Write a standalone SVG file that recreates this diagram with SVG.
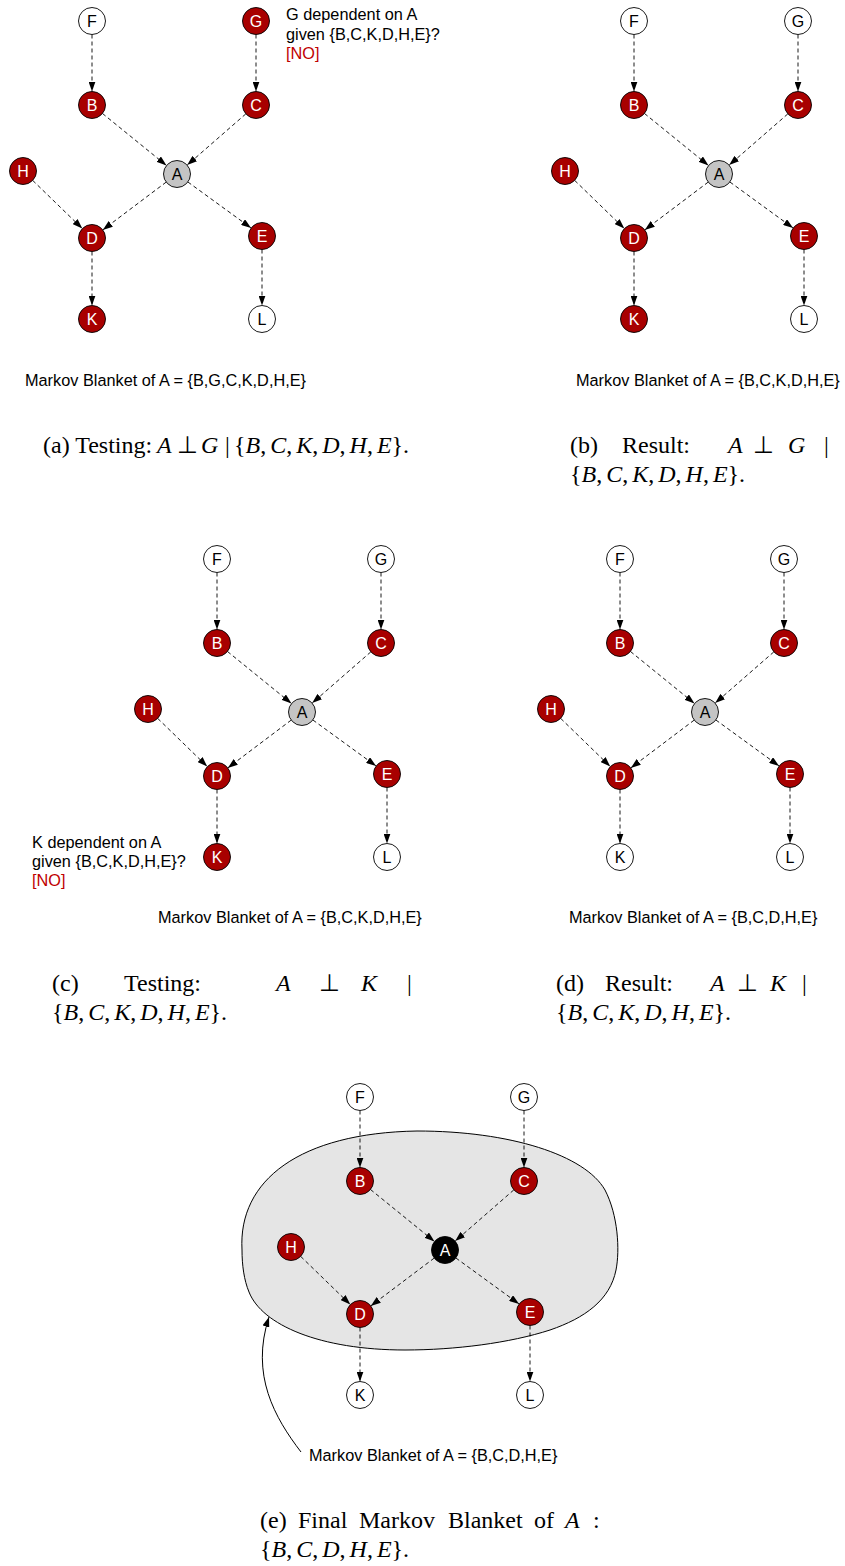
<svg xmlns="http://www.w3.org/2000/svg" width="845" height="1566" viewBox="0 0 845 1566">
<style>
.bg{fill:#ffffff}
circle{stroke:#000;stroke-width:0.9}
.r{fill:#a80000}
.w{fill:#ffffff}
.g{fill:#c4c4c4}
.k{fill:#000000}
.lb{font-family:"Liberation Sans",Arial,sans-serif;font-size:16px;text-anchor:middle}
.lw{fill:#ffffff}
.lk{fill:#000000}
.edge line{stroke:#000;stroke-width:0.9;stroke-dasharray:4,3;marker-end:url(#ah)}
.note{font-family:"Liberation Sans",Arial,sans-serif;font-size:16.3px;fill:#000}
.no{fill:#c00000}
.cap{font-family:"Liberation Serif","Times New Roman",serif;font-size:24px;fill:#000}
.it{font-style:italic}
.blob{fill:#e5e5e5;stroke:#000;stroke-width:1}
.ptr{fill:none;stroke:#000;stroke-width:1;marker-end:url(#ah2)}
</style>
<defs>
<marker id="ah" markerUnits="userSpaceOnUse" markerWidth="10" markerHeight="7" refX="10" refY="3.5" orient="auto">
<path d="M0,0 L10,3.5 L0,7 Z" fill="#000"/>
</marker>
<marker id="ah2" markerUnits="userSpaceOnUse" markerWidth="10" markerHeight="7" refX="10" refY="3.5" orient="auto">
<path d="M0,0 L10,3.5 L0,7 Z" fill="#000"/>
</marker>
</defs>
<rect class="bg" x="0" y="0" width="845" height="1566"/>

<!-- Panel (a) -->
<g id="panel-a">
<g id="edges-a" class="edge">
<line x1="92" y1="34.5" x2="92" y2="91.5"/>
<line x1="256" y1="34.5" x2="256" y2="91.5"/>
<line x1="102.5" y1="113.5" x2="166.5" y2="165.5"/>
<line x1="245.8" y1="113.9" x2="187.2" y2="165.1"/>
<line x1="166.2" y1="182.1" x2="102.8" y2="229.9"/>
<line x1="187.9" y1="182" x2="251.1" y2="228"/>
<line x1="32.7" y1="180.4" x2="82.3" y2="228.6"/>
<line x1="92" y1="251.5" x2="92" y2="305.5"/>
<line x1="262" y1="249.5" x2="262" y2="305.5"/>
</g>
<g id="a-F"><circle class="w" cx="92" cy="21" r="13.5"/><text class="lb lk" x="92" y="26.7">F</text></g>
<g id="a-G"><circle class="r" cx="256" cy="21" r="13.5"/><text class="lb lw" x="256" y="26.7">G</text></g>
<g id="a-B"><circle class="r" cx="92" cy="105" r="13.5"/><text class="lb lw" x="92" y="110.7">B</text></g>
<g id="a-C"><circle class="r" cx="256" cy="105" r="13.5"/><text class="lb lw" x="256" y="110.7">C</text></g>
<g id="a-A"><circle class="g" cx="177" cy="174" r="13.5"/><text class="lb lk" x="177" y="179.7">A</text></g>
<g id="a-H"><circle class="r" cx="23" cy="171" r="13.5"/><text class="lb lw" x="23" y="176.7">H</text></g>
<g id="a-D"><circle class="r" cx="92" cy="238" r="13.5"/><text class="lb lw" x="92" y="243.7">D</text></g>
<g id="a-E"><circle class="r" cx="262" cy="236" r="13.5"/><text class="lb lw" x="262" y="241.7">E</text></g>
<g id="a-K"><circle class="r" cx="92" cy="319" r="13.5"/><text class="lb lw" x="92" y="324.7">K</text></g>
<g id="a-L"><circle class="w" cx="262" cy="319" r="13.5"/><text class="lb lk" x="262" y="324.7">L</text></g>
<g id="a-note"><text class="note" x="286" y="20">G dependent on A</text><text class="note" x="286" y="39.5">given {B,C,K,D,H,E}?</text><text class="note no" x="286" y="59">[NO]</text></g>
<text class="note" x="25" y="386">Markov Blanket of A = {B,G,C,K,D,H,E}</text>
<text class="cap" y="453"><tspan x="43">(a) Testing:</tspan><tspan class="it" x="157">A</tspan><tspan x="177">⊥</tspan><tspan class="it" x="201">G</tspan><tspan x="225">|</tspan><tspan x="234">{</tspan><tspan class="it">B</tspan>,<tspan class="it" dx="4">C</tspan>,<tspan class="it" dx="4">K</tspan>,<tspan class="it" dx="4">D</tspan>,<tspan class="it" dx="4">H</tspan>,<tspan class="it" dx="4">E</tspan>}.</text>
</g>

<!-- Panel (b) -->
<g id="panel-b">
<g id="edges-b" class="edge" transform="translate(542,0)">
<line x1="92" y1="34.5" x2="92" y2="91.5"/>
<line x1="256" y1="34.5" x2="256" y2="91.5"/>
<line x1="102.5" y1="113.5" x2="166.5" y2="165.5"/>
<line x1="245.8" y1="113.9" x2="187.2" y2="165.1"/>
<line x1="166.2" y1="182.1" x2="102.8" y2="229.9"/>
<line x1="187.9" y1="182" x2="251.1" y2="228"/>
<line x1="32.7" y1="180.4" x2="82.3" y2="228.6"/>
<line x1="92" y1="251.5" x2="92" y2="305.5"/>
<line x1="262" y1="249.5" x2="262" y2="305.5"/>
</g>
<g transform="translate(542,0)">
<g id="b-F"><circle class="w" cx="92" cy="21" r="13.5"/><text class="lb lk" x="92" y="26.7">F</text></g>
<g id="b-G"><circle class="w" cx="256" cy="21" r="13.5"/><text class="lb lk" x="256" y="26.7">G</text></g>
<g id="b-B"><circle class="r" cx="92" cy="105" r="13.5"/><text class="lb lw" x="92" y="110.7">B</text></g>
<g id="b-C"><circle class="r" cx="256" cy="105" r="13.5"/><text class="lb lw" x="256" y="110.7">C</text></g>
<g id="b-A"><circle class="g" cx="177" cy="174" r="13.5"/><text class="lb lk" x="177" y="179.7">A</text></g>
<g id="b-H"><circle class="r" cx="23" cy="171" r="13.5"/><text class="lb lw" x="23" y="176.7">H</text></g>
<g id="b-D"><circle class="r" cx="92" cy="238" r="13.5"/><text class="lb lw" x="92" y="243.7">D</text></g>
<g id="b-E"><circle class="r" cx="262" cy="236" r="13.5"/><text class="lb lw" x="262" y="241.7">E</text></g>
<g id="b-K"><circle class="r" cx="92" cy="319" r="13.5"/><text class="lb lw" x="92" y="324.7">K</text></g>
<g id="b-L"><circle class="w" cx="262" cy="319" r="13.5"/><text class="lb lk" x="262" y="324.7">L</text></g>
</g>
<text class="note" x="576" y="386">Markov Blanket of A = {B,C,K,D,H,E}</text>
<text class="cap" y="453"><tspan x="570">(b)</tspan><tspan x="622">Result:</tspan><tspan class="it" x="728">A</tspan><tspan x="753">⊥</tspan><tspan class="it" x="788">G</tspan><tspan x="824">|</tspan></text>
<text class="cap" x="570" y="482">{<tspan class="it">B</tspan>,<tspan class="it" dx="4">C</tspan>,<tspan class="it" dx="4">K</tspan>,<tspan class="it" dx="4">D</tspan>,<tspan class="it" dx="4">H</tspan>,<tspan class="it" dx="4">E</tspan>}.</text>
</g>

<!-- Panel (c) -->
<g id="panel-c">
<g id="edges-c" class="edge" transform="translate(125,538)">
<line x1="92" y1="34.5" x2="92" y2="91.5"/>
<line x1="256" y1="34.5" x2="256" y2="91.5"/>
<line x1="102.5" y1="113.5" x2="166.5" y2="165.5"/>
<line x1="245.8" y1="113.9" x2="187.2" y2="165.1"/>
<line x1="166.2" y1="182.1" x2="102.8" y2="229.9"/>
<line x1="187.9" y1="182" x2="251.1" y2="228"/>
<line x1="32.7" y1="180.4" x2="82.3" y2="228.6"/>
<line x1="92" y1="251.5" x2="92" y2="305.5"/>
<line x1="262" y1="249.5" x2="262" y2="305.5"/>
</g>
<g transform="translate(125,538)">
<g id="c-F"><circle class="w" cx="92" cy="21" r="13.5"/><text class="lb lk" x="92" y="26.7">F</text></g>
<g id="c-G"><circle class="w" cx="256" cy="21" r="13.5"/><text class="lb lk" x="256" y="26.7">G</text></g>
<g id="c-B"><circle class="r" cx="92" cy="105" r="13.5"/><text class="lb lw" x="92" y="110.7">B</text></g>
<g id="c-C"><circle class="r" cx="256" cy="105" r="13.5"/><text class="lb lw" x="256" y="110.7">C</text></g>
<g id="c-A"><circle class="g" cx="177" cy="174" r="13.5"/><text class="lb lk" x="177" y="179.7">A</text></g>
<g id="c-H"><circle class="r" cx="23" cy="171" r="13.5"/><text class="lb lw" x="23" y="176.7">H</text></g>
<g id="c-D"><circle class="r" cx="92" cy="238" r="13.5"/><text class="lb lw" x="92" y="243.7">D</text></g>
<g id="c-E"><circle class="r" cx="262" cy="236" r="13.5"/><text class="lb lw" x="262" y="241.7">E</text></g>
<g id="c-K"><circle class="r" cx="92" cy="319" r="13.5"/><text class="lb lw" x="92" y="324.7">K</text></g>
<g id="c-L"><circle class="w" cx="262" cy="319" r="13.5"/><text class="lb lk" x="262" y="324.7">L</text></g>
</g>
<g id="c-note"><text class="note" x="32" y="848">K dependent on A</text><text class="note" x="32" y="867">given {B,C,K,D,H,E}?</text><text class="note no" x="32" y="886">[NO]</text></g>
<text class="note" x="158" y="923">Markov Blanket of A = {B,C,K,D,H,E}</text>
<text class="cap" y="991"><tspan x="52">(c)</tspan><tspan x="124">Testing:</tspan><tspan class="it" x="276">A</tspan><tspan x="319">⊥</tspan><tspan class="it" x="361">K</tspan><tspan x="407">|</tspan></text>
<text class="cap" x="52" y="1020">{<tspan class="it">B</tspan>,<tspan class="it" dx="4">C</tspan>,<tspan class="it" dx="4">K</tspan>,<tspan class="it" dx="4">D</tspan>,<tspan class="it" dx="4">H</tspan>,<tspan class="it" dx="4">E</tspan>}.</text>
</g>

<!-- Panel (d) -->
<g id="panel-d">
<g id="edges-d" class="edge" transform="translate(528,538)">
<line x1="92" y1="34.5" x2="92" y2="91.5"/>
<line x1="256" y1="34.5" x2="256" y2="91.5"/>
<line x1="102.5" y1="113.5" x2="166.5" y2="165.5"/>
<line x1="245.8" y1="113.9" x2="187.2" y2="165.1"/>
<line x1="166.2" y1="182.1" x2="102.8" y2="229.9"/>
<line x1="187.9" y1="182" x2="251.1" y2="228"/>
<line x1="32.7" y1="180.4" x2="82.3" y2="228.6"/>
<line x1="92" y1="251.5" x2="92" y2="305.5"/>
<line x1="262" y1="249.5" x2="262" y2="305.5"/>
</g>
<g transform="translate(528,538)">
<g id="d-F"><circle class="w" cx="92" cy="21" r="13.5"/><text class="lb lk" x="92" y="26.7">F</text></g>
<g id="d-G"><circle class="w" cx="256" cy="21" r="13.5"/><text class="lb lk" x="256" y="26.7">G</text></g>
<g id="d-B"><circle class="r" cx="92" cy="105" r="13.5"/><text class="lb lw" x="92" y="110.7">B</text></g>
<g id="d-C"><circle class="r" cx="256" cy="105" r="13.5"/><text class="lb lw" x="256" y="110.7">C</text></g>
<g id="d-A"><circle class="g" cx="177" cy="174" r="13.5"/><text class="lb lk" x="177" y="179.7">A</text></g>
<g id="d-H"><circle class="r" cx="23" cy="171" r="13.5"/><text class="lb lw" x="23" y="176.7">H</text></g>
<g id="d-D"><circle class="r" cx="92" cy="238" r="13.5"/><text class="lb lw" x="92" y="243.7">D</text></g>
<g id="d-E"><circle class="r" cx="262" cy="236" r="13.5"/><text class="lb lw" x="262" y="241.7">E</text></g>
<g id="d-K"><circle class="w" cx="92" cy="319" r="13.5"/><text class="lb lk" x="92" y="324.7">K</text></g>
<g id="d-L"><circle class="w" cx="262" cy="319" r="13.5"/><text class="lb lk" x="262" y="324.7">L</text></g>
</g>
<text class="note" x="569" y="923">Markov Blanket of A = {B,C,D,H,E}</text>
<text class="cap" y="991"><tspan x="556">(d)</tspan><tspan x="605">Result:</tspan><tspan class="it" x="710">A</tspan><tspan x="737">⊥</tspan><tspan class="it" x="770">K</tspan><tspan x="802">|</tspan></text>
<text class="cap" x="556" y="1020">{<tspan class="it">B</tspan>,<tspan class="it" dx="4">C</tspan>,<tspan class="it" dx="4">K</tspan>,<tspan class="it" dx="4">D</tspan>,<tspan class="it" dx="4">H</tspan>,<tspan class="it" dx="4">E</tspan>}.</text>
</g>

<!-- Panel (e) -->
<g id="panel-e">
<path id="e-blob" class="blob" d="M242,1250 C238,1180 300,1133 417,1131 C510,1131 585,1155 605,1190 C618,1215 620,1250 616,1270 C610,1300 585,1318 550,1330 C510,1343 455,1350 405,1350 C320,1350 262,1325 249,1292 C244,1280 242,1265 242,1250 Z"/>
<g id="edges-e" class="edge" transform="translate(268,1076)">
<line x1="92" y1="34.5" x2="92" y2="91.5"/>
<line x1="256" y1="34.5" x2="256" y2="91.5"/>
<line x1="102.5" y1="113.5" x2="166.5" y2="165.5"/>
<line x1="245.8" y1="113.9" x2="187.2" y2="165.1"/>
<line x1="166.2" y1="182.1" x2="102.8" y2="229.9"/>
<line x1="187.9" y1="182" x2="251.1" y2="228"/>
<line x1="32.7" y1="180.4" x2="82.3" y2="228.6"/>
<line x1="92" y1="251.5" x2="92" y2="305.5"/>
<line x1="262" y1="249.5" x2="262" y2="305.5"/>
</g>
<g transform="translate(268,1076)">
<g id="e-F"><circle class="w" cx="92" cy="21" r="13.5"/><text class="lb lk" x="92" y="26.7">F</text></g>
<g id="e-G"><circle class="w" cx="256" cy="21" r="13.5"/><text class="lb lk" x="256" y="26.7">G</text></g>
<g id="e-B"><circle class="r" cx="92" cy="105" r="13.5"/><text class="lb lw" x="92" y="110.7">B</text></g>
<g id="e-C"><circle class="r" cx="256" cy="105" r="13.5"/><text class="lb lw" x="256" y="110.7">C</text></g>
<g id="e-A"><circle class="k" cx="177" cy="174" r="13.5"/><text class="lb lw" x="177" y="179.7">A</text></g>
<g id="e-H"><circle class="r" cx="23" cy="171" r="13.5"/><text class="lb lw" x="23" y="176.7">H</text></g>
<g id="e-D"><circle class="r" cx="92" cy="238" r="13.5"/><text class="lb lw" x="92" y="243.7">D</text></g>
<g id="e-E"><circle class="r" cx="262" cy="236" r="13.5"/><text class="lb lw" x="262" y="241.7">E</text></g>
<g id="e-K"><circle class="w" cx="92" cy="319" r="13.5"/><text class="lb lk" x="92" y="324.7">K</text></g>
<g id="e-L"><circle class="w" cx="262" cy="319" r="13.5"/><text class="lb lk" x="262" y="324.7">L</text></g>
</g>
<g id="e-pointer"><path class="ptr" d="M301,1452 C275,1418 250,1375 269,1317"/></g>
<text class="note" x="309" y="1461">Markov Blanket of A = {B,C,D,H,E}</text>
<text class="cap" y="1528"><tspan x="260">(e)</tspan><tspan x="298">Final</tspan><tspan x="359">Markov</tspan><tspan x="448">Blanket</tspan><tspan x="534">of</tspan><tspan class="it" x="565">A</tspan><tspan x="593">:</tspan></text>
<text class="cap" x="260" y="1557">{<tspan class="it">B</tspan>,<tspan class="it" dx="4">C</tspan>,<tspan class="it" dx="4">D</tspan>,<tspan class="it" dx="4">H</tspan>,<tspan class="it" dx="4">E</tspan>}.</text>
</g>
</svg>
